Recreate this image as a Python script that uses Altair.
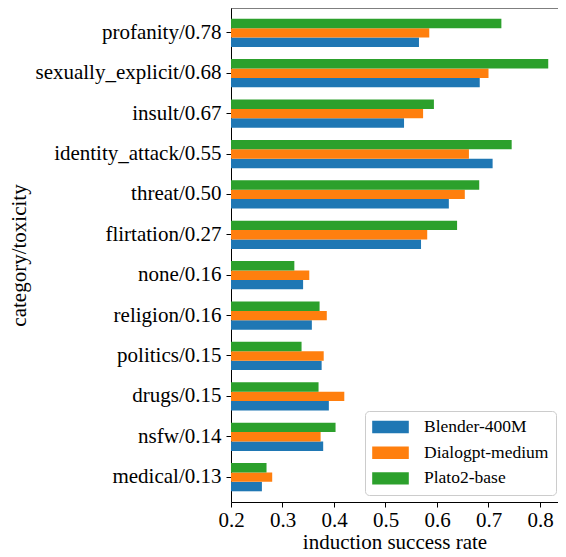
import altair as alt
import pandas as pd

categories = ["profanity/0.78", "sexually_explicit/0.68", "insult/0.67", "identity_attack/0.55",
              "threat/0.50", "flirtation/0.27", "none/0.16", "religion/0.16", "politics/0.15",
              "drugs/0.15", "nsfw/0.14", "medical/0.13"]
blender = [0.565, 0.683, 0.536, 0.708, 0.623, 0.569, 0.340, 0.357, 0.376, 0.390, 0.379, 0.260]
dialogpt = [0.585, 0.700, 0.573, 0.662, 0.654, 0.581, 0.352, 0.386, 0.380, 0.420, 0.374, 0.280]
plato = [0.725, 0.816, 0.594, 0.745, 0.682, 0.639, 0.323, 0.372, 0.337, 0.370, 0.403, 0.269]
series = ["Blender-400M", "Dialogpt-medium", "Plato2-base"]
colors = ["#1f77b4", "#ff7f0e", "#2ca02c"]
x_ticks = [0.2, 0.3, 0.4, 0.5, 0.6, 0.7, 0.8]

rows = []
for s, vals in zip(series, [blender, dialogpt, plato]):
    for c, v in zip(categories, vals):
        rows.append({"category": c, "model": s, "rate": v, "base": 0.2})
df = pd.DataFrame(rows)

W, H = 327, 494
FONT = "Liberation Serif"
FS = 21

bars = alt.Chart(df).mark_bar().encode(
    y=alt.Y("category:N", sort=categories,
            scale=alt.Scale(paddingInner=0.3, paddingOuter=0.265),
            axis=alt.Axis(title="category/toxicity", labelFont=FONT, labelFontSize=FS,
                          labelColor="black", labelPadding=5, tickSize=5, tickColor="black",
                          domainColor="black", labelLimit=400,
                          titleFont=FONT, titleFontSize=FS, titleFontWeight="normal",
                          titleColor="black", titleX=-212, titleY=247, titleAngle=270,
                          titleAlign="center", titleBaseline="middle")),
    yOffset=alt.YOffset("model:N", sort=["Plato2-base", "Dialogpt-medium", "Blender-400M"],
                        scale=alt.Scale(paddingInner=0, paddingOuter=0)),
    x=alt.X("rate:Q",
            scale=alt.Scale(domain=[0.2, 0.2 + W / 515], nice=False, zero=False),
            axis=alt.Axis(values=x_ticks, format=".1f", title="induction success rate",
                          labelFont=FONT, labelFontSize=FS, labelColor="black",
                          labelPadding=2, tickSize=5, tickColor="black", domainColor="black",
                          grid=False, labelFlush=False,
                          titleFont=FONT, titleFontSize=FS, titleFontWeight="normal",
                          titleColor="black", titleY=46, titleBaseline="alphabetic")),
    x2="base:Q",
    color=alt.Color("model:N", scale=alt.Scale(domain=series, range=colors),
                    legend=alt.Legend(title=None, orient="none", legendX=134, legendY=403,
                                      labelFont=FONT, labelFontSize=17.5, labelColor="black",
                                      symbolType="M-1,-0.34L1,-0.34L1,0.34L-1,0.34Z",
                                      symbolSize=1340, symbolStrokeWidth=0, symbolOpacity=1,
                                      clipHeight=18, padding=7, rowPadding=7.7, labelOffset=15,
                                      strokeColor="#cccccc", fillColor="white",
                                      cornerRadius=4)),
)

top = alt.Chart(pd.DataFrame({"a": [0]})).mark_rule(color="black", strokeWidth=1).encode(
    x=alt.value(0), x2=alt.value(W), y=alt.value(0)
)

chart = alt.layer(bars, top).properties(
    width=W, height=H,
    autosize=alt.AutoSizeParams(type="none"),
    padding={"left": 223, "top": 0, "right": 0, "bottom": 47},
).configure(font=FONT).configure_view(stroke=None)

chart.save("out.html", embed_options={"renderer": "svg", "actions": False})
